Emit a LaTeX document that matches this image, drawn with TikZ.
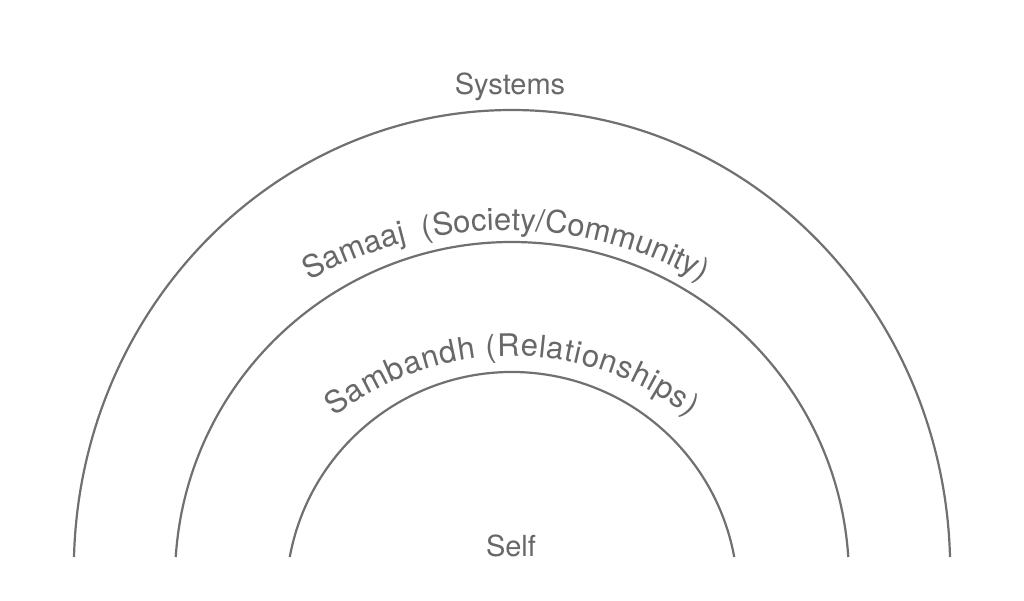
\documentclass[tikz,border=0pt]{standalone}
\usepackage{fontspec}
\setmainfont{TeX Gyre Heros}
\usetikzlibrary{decorations.text}
\definecolor{linegray}{RGB}{112,112,112}
\definecolor{textgray}{RGB}{104,104,104}
\newcommand{\lblfont}{\fontsize{29}{34}\selectfont}
\newcommand{\arcfont}{\fontsize{31}{36}\selectfont}
\begin{document}
\begin{tikzpicture}[x=1pt,y=1pt,
  arcline/.style={draw=linegray, line width=2.2pt},
  lbl/.style={text=textgray, font=\lblfont, inner sep=0pt},
  curvedlbl/.style={decorate, decoration={text along path, text align=fit to path, text color=textgray, text={#1}}}]
\useasboundingbox (0,0) rectangle (1024,601);
\fill[white] (0,0) rectangle (1024,601);
% rings
\draw[arcline] (512,31) ++(178.38:438.2 and 460) arc[start angle=178.38, end angle=1.62, x radius=438.2, y radius=460];
\draw[arcline] (512,22) ++(176.26:337) arc[start angle=176.26, end angle=3.74, radius=337];
\draw[arcline] (512,3) ++(169.55:226) arc[start angle=169.55, end angle=10.45, radius=226];
% labels
\node[lbl, anchor=base] (systems) at (510,506) {Systems};
\node[lbl, anchor=base] (self) at (511,44) {Self};
\path[curvedlbl={|\arcfont|Samaaj {\ }(Society/Community)}] (505,-32) ++(119:403) arc[start angle=119, end angle=60.8, radius=403];
\path[curvedlbl={|\arcfont|Sambandh (Relationships)}] (512,-43) ++(128:288) arc[start angle=128, end angle=52, radius=288];
\end{tikzpicture}
\end{document}
